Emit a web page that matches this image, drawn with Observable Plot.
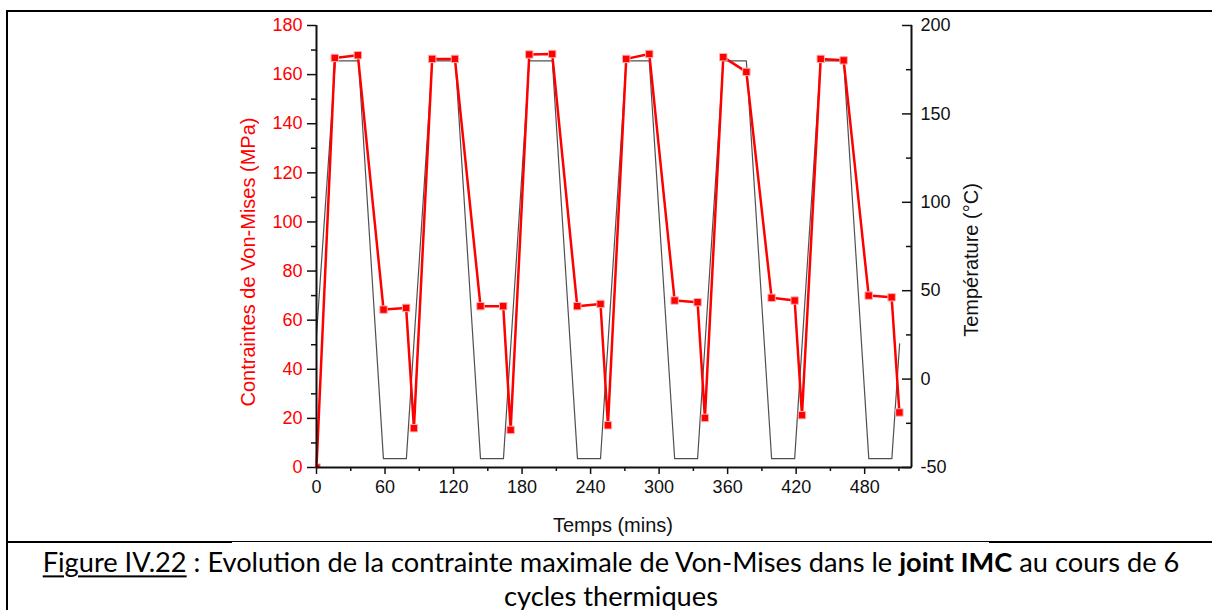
<!DOCTYPE html>
<html><head><meta charset="utf-8">
<script src="https://cdn.jsdelivr.net/npm/d3@7"></script>
<script src="https://cdn.jsdelivr.net/npm/@observablehq/plot@0.6"></script>
<style>
html,body{margin:0;padding:0;background:#fff;}
body{width:1212px;height:610px;overflow:hidden;position:relative;font-family:"Liberation Sans",Arial,sans-serif;}
#chart{position:absolute;left:0;top:0;}
.bar{position:absolute;background:#000;}
.ttl{position:absolute;font-size:20px;white-space:nowrap;line-height:1;}
.rot{transform:translate(-50%,-50%) rotate(-90deg);}
.hz{transform:translate(-50%,-50%);}
.cap{position:absolute;left:611px;white-space:nowrap;font-family:Lato,"Noto Sans",sans-serif;color:#000;line-height:1;transform:translate(-50%,-50%);}
.cap u{text-decoration-thickness:1.5px;text-underline-offset:3px;}
</style></head>
<body>
<div id="chart"></div>
<div class="bar" style="left:6px;top:10px;width:1206px;height:2px"></div>
<div class="bar" style="left:6px;top:10px;width:2px;height:600px"></div>
<div class="bar" style="left:6px;top:541px;width:226px;height:2px"></div>
<div class="bar" style="left:232px;top:541px;width:757px;height:1px"></div>
<div class="bar" style="left:989px;top:541px;width:223px;height:2px"></div>
<div class="ttl rot" style="left:248px;top:262px;color:#ff0000">Contraintes de Von-Mises (MPa)</div>
<div class="ttl rot" style="left:971px;top:260px;color:#111">Température (°C)</div>
<div class="ttl hz" style="left:613px;top:525px;color:#111">Temps (mins)</div>
<div id="cap1" class="cap" style="top:562px"><u>Figure IV.22</u> : Evolution de la contrainte maximale de Von-Mises dans le <b>joint IMC</b> au cours de 6</div>
<div id="cap2" class="cap" style="top:596px">cycles thermiques</div>
<script>
// Axes domains and ticks
const timeDomain = [0, 521];
const stressDomain = [0, 180];
const tempDomain = [-50, 200];
const timeTicks = [0, 60, 120, 180, 240, 300, 360, 420, 480];
const timeMinor = [30, 90, 150, 210, 270, 330, 390, 450, 510];
const stressTicks = [0, 20, 40, 60, 80, 100, 120, 140, 160, 180];
const stressMinor = [10, 30, 50, 70, 90, 110, 130, 150, 170];
const tempTicks = [-50, 0, 50, 100, 150, 200];
const tempMinor = [-25, 25, 75, 125, 175];

// Temperature profile (°C) vs time (min)
const tempTime = [0, 16.5, 36.8, 58.6, 78.7, 101.4, 121.6, 143.6, 163.7, 186.3, 206.5, 228.5, 248.7, 271.2, 291.4, 313.6, 333.7, 356.2, 376.4, 398.5, 418.7, 441.4, 461.6, 483.6, 503.8, 510.6];
const tempValues = [25, 180, 180, -45, -45, 180, 180, -45, -45, 180, 180, -45, -45, 180, 180, -45, -45, 180, 180, -45, -45, 180, 180, -45, -45, 20];

// Von-Mises stress (MPa) vs time (min)
const stressTime = [0, 16, 36.2, 58.7, 78.5, 85.3, 101.3, 121.2, 143.6, 163.5, 170, 186.3, 206.4, 228.3, 248.7, 255.2, 271.2, 291.4, 313.6, 333.7, 340.1, 356.2, 376.4, 398.5, 418.7, 425.1, 441.5, 461.6, 483.5, 503.6, 510.4];
const stressValues = [0, 166.8, 167.9, 64.3, 65.0, 16.0, 166.4, 166.4, 65.7, 65.7, 15.3, 168.2, 168.4, 65.7, 66.6, 17.2, 166.4, 168.4, 68.0, 67.3, 20.2, 167.1, 161.1, 69.1, 68.0, 21.3, 166.4, 165.8, 70.0, 69.3, 22.4];

// map temperature onto the stress scale (secondary axis)
const toY = t => stressDomain[0] + (t - tempDomain[0]) * (stressDomain[1] - stressDomain[0]) / (tempDomain[1] - tempDomain[0]);
const fromY = v => tempDomain[0] + (v - stressDomain[0]) * (tempDomain[1] - tempDomain[0]) / (stressDomain[1] - stressDomain[0]);

const tempData = tempTime.map((t, i) => ({t, y: toY(tempValues[i])}));
const stressData = stressTime.map((t, i) => ({t, s: stressValues[i]}));

const plot = Plot.plot({
  width: 1212, height: 545,
  marginLeft: 316, marginRight: 301, marginTop: 25, marginBottom: 78,
  style: {fontFamily: "'Liberation Sans', Arial, sans-serif", fontSize: "18px", background: "transparent", overflow: "visible", color: "#111"},
  x: {domain: timeDomain},
  y: {domain: stressDomain},
  marks: [
    Plot.axisX(timeTicks, {tickSize: 7, tickPadding: 6, label: null, stroke: "#111", fill: "#111", strokeWidth: 1.5, tickFormat: d => String(d)}),
    Plot.axisX(timeMinor, {tickSize: 4, text: null, label: null, stroke: "#111", strokeWidth: 1.5}),
    Plot.axisY(stressTicks, {anchor: "left", tickSize: 9, tickPadding: 5, label: null, stroke: "#111", fill: "#ff0000", strokeWidth: 1.5, tickFormat: d => String(d)}),
    Plot.axisY(stressMinor, {anchor: "left", tickSize: 5, text: null, label: null, stroke: "#111", strokeWidth: 1.5}),
    Plot.axisY(tempTicks.map(toY), {anchor: "right", tickSize: 10, dx: -10, text: null, label: null, stroke: "#111", strokeWidth: 1.5}),
    Plot.axisY(tempMinor.map(toY), {anchor: "right", tickSize: 6, dx: -6, text: null, label: null, stroke: "#111", strokeWidth: 1.5}),
    Plot.axisY(tempTicks.map(toY), {anchor: "right", tickSize: 0, tickPadding: 9, label: null, fill: "#111", tickFormat: v => String(Math.round(fromY(v)))}),
    Plot.line(tempData, {x: "t", y: "y", stroke: "#505050", strokeWidth: 1.2}),
    Plot.line(stressData, {x: "t", y: "s", stroke: "#ff0000", strokeWidth: 2.5}),
    Plot.dot(stressData, {x: "t", y: "s", symbol: "square", r: 4.2, fill: "#ff0000", stroke: "#ffb0b0", strokeWidth: 1, clip: true}),
    Plot.ruleX([timeDomain[0], timeDomain[1]], {stroke: "#111", strokeWidth: 2}),
    Plot.ruleY([stressDomain[0]], {stroke: "#111", strokeWidth: 2})
  ]
});
document.getElementById("chart").appendChild(plot);

// fit caption width
const c1 = document.getElementById("cap1"), c2 = document.getElementById("cap2");
let fs = 24;
c1.style.fontSize = fs + "px";
const w = c1.getBoundingClientRect().width;
fs = fs * 1137 / w;
c1.style.fontSize = fs + "px";
c2.style.fontSize = fs + "px";
</script>
</body></html>
